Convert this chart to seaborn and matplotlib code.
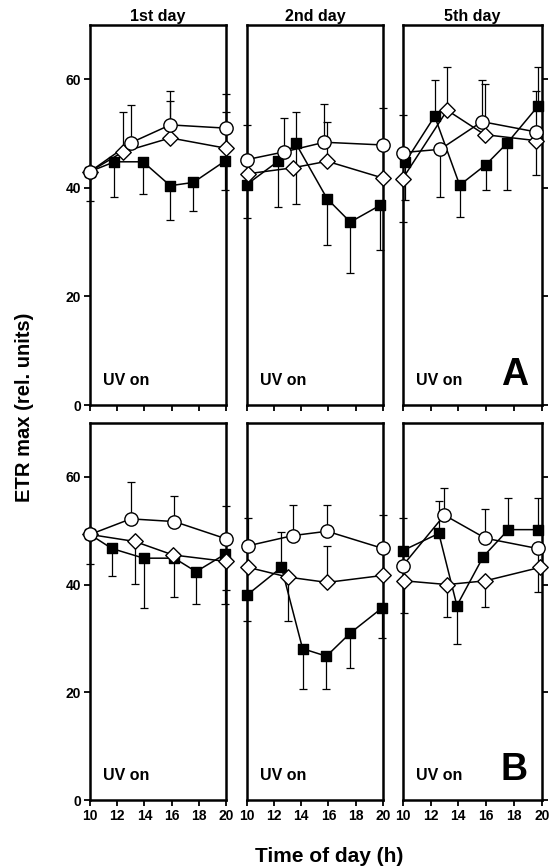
import matplotlib
matplotlib.use("Agg")
import matplotlib.pyplot as plt
import seaborn as sns
import numpy as np

sns.set_style("ticks")
plt.rcParams["font.family"] = ["Liberation Sans", "DejaVu Sans"]
plt.rcParams["font.weight"] = "bold"
for key in ["text.color", "axes.labelcolor", "xtick.color", "ytick.color",
            "axes.edgecolor"]:
    plt.rcParams[key] = "black"

days = ["1st day", "2nd day", "5th day"]
x_ticks = [10, 12, 14, 16, 18, 20]
y_ticks = [0, 20, 40, 60]

# --- A, 1st day ---
A1_sq_t = [10, 11.8, 13.9, 15.9, 17.6, 19.9]
A1_sq = [43.0, 44.8, 44.8, 40.4, 41.0, 44.9]
A1_sq_lo = [5.4, 6.5, 5.9, 6.4, 5.2, 5.3]
A1_sq_hi = [0, 0, 0, 0, 0, 0]
A1_ci_t = [10, 13.0, 15.9, 20.0]
A1_ci = [43.0, 48.3, 51.6, 51.0]
A1_ci_lo = [0, 0, 0, 0]
A1_ci_hi = [0, 6.9, 6.2, 6.2]
A1_di_t = [10, 12.4, 15.9, 20.0]
A1_di = [43.0, 46.6, 49.2, 47.3]
A1_di_lo = [0, 0, 0, 0]
A1_di_hi = [0, 7.4, 6.8, 6.6]

# --- A, 2nd day ---
A2_sq_t = [10, 12.3, 13.6, 15.9, 17.6, 19.8]
A2_sq = [40.6, 44.9, 48.2, 38.0, 33.7, 36.8]
A2_sq_lo = [6.1, 8.5, 11.2, 8.5, 9.3, 8.3]
A2_sq_hi = [0, 0, 5.8, 0, 0, 0]
A2_ci_t = [10, 12.7, 15.7, 20]
A2_ci = [45.2, 46.6, 48.4, 47.9]
A2_ci_lo = [0, 0, 0, 0]
A2_ci_hi = [6.3, 6.3, 7.0, 6.9]
A2_di_t = [10.1, 13.4, 15.9, 20]
A2_di = [42.6, 43.7, 44.9, 41.8]
A2_di_lo = [0, 0, 0, 0]
A2_di_hi = [0, 0, 7.2, 0]

# --- A, 5th day ---
A3_sq_t = [10.2, 12.3, 14.1, 16.0, 17.5, 19.75]
A3_sq = [44.8, 53.2, 40.5, 44.3, 48.2, 55.1]
A3_sq_lo = [7.0, 0, 5.9, 4.7, 8.6, 0]
A3_sq_hi = [0, 6.6, 0, 0, 0, 7.2]
A3_ci_t = [10, 12.7, 15.7, 19.6]
A3_ci = [46.5, 47.1, 52.2, 50.3]
A3_ci_lo = [0, 8.8, 0, 0]
A3_ci_hi = [7.0, 0, 7.6, 7.5]
A3_di_t = [10, 13.2, 15.9, 19.6]
A3_di = [41.7, 54.3, 49.8, 48.7]
A3_di_lo = [7.9, 0, 0, 6.4]
A3_di_hi = [0, 8.0, 9.3, 0]

# --- B, 1st day ---
B1_sq_t = [10, 11.6, 13.95, 16.2, 17.8, 19.9]
B1_sq = [49.3, 46.7, 44.9, 44.9, 42.4, 45.6]
B1_sq_lo = [5.4, 5.2, 9.2, 7.3, 6.0, 9.2]
B1_sq_hi = [0, 0, 0, 0, 0, 0]
B1_ci_t = [10, 13.0, 16.2, 20]
B1_ci = [49.3, 52.2, 51.7, 48.5]
B1_ci_lo = [0, 0, 0, 0]
B1_ci_hi = [0, 6.9, 4.8, 6.1]
B1_di_t = [10, 13.3, 16.1, 20]
B1_di = [49.3, 48.0, 45.5, 44.3]
B1_di_lo = [0, 7.9, 0, 5.4]
B1_di_hi = [0, 0, 0, 0]

# --- B, 2nd day ---
B2_sq_t = [10, 12.55, 14.1, 15.85, 17.6, 19.9]
B2_sq = [38.0, 43.2, 28.1, 26.7, 31.0, 35.6]
B2_sq_lo = [4.8, 0, 7.4, 6.0, 6.5, 5.5]
B2_sq_hi = [0, 6.5, 0, 0, 0, 0]
B2_ci_t = [10.1, 13.4, 15.9, 20]
B2_ci = [47.2, 49.1, 49.9, 46.7]
B2_ci_lo = [0, 0, 0, 0]
B2_ci_hi = [5.1, 5.7, 4.9, 6.2]
B2_di_t = [10.1, 13.0, 15.9, 20]
B2_di = [43.2, 41.4, 40.4, 41.7]
B2_di_lo = [0, 8.2, 0, 0]
B2_di_hi = [0, 0, 6.8, 0]

# --- B, 5th day ---
B3_sq_t = [10, 12.6, 13.9, 15.8, 17.6, 19.75]
B3_sq = [46.3, 49.5, 36.1, 45.2, 50.2, 50.2]
B3_sq_lo = [0, 0, 7.1, 0, 0, 0]
B3_sq_hi = [6.0, 6.1, 0, 0, 5.9, 5.9]
B3_ci_t = [10, 13.0, 15.95, 19.7]
B3_ci = [43.5, 52.9, 48.6, 46.7]
B3_ci_lo = [0, 0, 0, 8.0]
B3_ci_hi = [0, 5.0, 5.5, 0]
B3_di_t = [10.1, 13.2, 15.95, 19.9]
B3_di = [40.7, 40.0, 40.7, 43.2]
B3_di_lo = [5.9, 6.1, 4.8, 0]
B3_di_hi = [0, 0, 0, 0]

panels = [
    [(A1_sq_t, A1_sq, A1_sq_lo, A1_sq_hi), (A1_di_t, A1_di, A1_di_lo, A1_di_hi), (A1_ci_t, A1_ci, A1_ci_lo, A1_ci_hi)],
    [(A2_sq_t, A2_sq, A2_sq_lo, A2_sq_hi), (A2_di_t, A2_di, A2_di_lo, A2_di_hi), (A2_ci_t, A2_ci, A2_ci_lo, A2_ci_hi)],
    [(A3_sq_t, A3_sq, A3_sq_lo, A3_sq_hi), (A3_di_t, A3_di, A3_di_lo, A3_di_hi), (A3_ci_t, A3_ci, A3_ci_lo, A3_ci_hi)],
    [(B1_sq_t, B1_sq, B1_sq_lo, B1_sq_hi), (B1_di_t, B1_di, B1_di_lo, B1_di_hi), (B1_ci_t, B1_ci, B1_ci_lo, B1_ci_hi)],
    [(B2_sq_t, B2_sq, B2_sq_lo, B2_sq_hi), (B2_di_t, B2_di, B2_di_lo, B2_di_hi), (B2_ci_t, B2_ci, B2_ci_lo, B2_ci_hi)],
    [(B3_sq_t, B3_sq, B3_sq_lo, B3_sq_hi), (B3_di_t, B3_di, B3_di_lo, B3_di_hi), (B3_ci_t, B3_ci, B3_ci_lo, B3_ci_hi)],
]

# marker style per series: square filled, diamond open, circle open
styles = [
    dict(marker="s", s=52, facecolor="black"),
    dict(marker="D", s=62, facecolor="white"),
    dict(marker="o", s=92, facecolor="white"),
]

W, H = 550, 868
col_x = [90, 246.7, 402.7]
col_w = [136, 136.3, 139]
row_top = [25, 423]
row_bot = [405, 800]

fig = plt.figure(figsize=(W / 100, H / 100), dpi=100)

for i, series in enumerate(panels):
    r, c = divmod(i, 3)
    ax = fig.add_axes([col_x[c] / W, 1 - row_bot[r] / H, col_w[c] / W,
                       (row_bot[r] - row_top[r]) / H])
    for (t, y, lo, hi), st in zip(series, styles):
        ax.errorbar(t, y, yerr=[lo, hi], fmt="none", ecolor="black",
                    elinewidth=0.9, capsize=2.6, capthick=0.9, zorder=2,
                    clip_on=False)
        sns.lineplot(x=t, y=y, ax=ax, color="black", linewidth=1.1,
                     zorder=3, clip_on=False)
        sns.scatterplot(x=t, y=y, ax=ax, marker=st["marker"], s=st["s"],
                        color=st["facecolor"], edgecolor="black",
                        linewidth=1.0, zorder=4, clip_on=False)

    ax.set_xlim(10, 20)
    ax.set_ylim(0, 70)
    ax.set_xticks(x_ticks)
    ax.set_yticks(y_ticks)
    ax.set_xlabel("")
    ax.set_ylabel("")
    for sp in ax.spines.values():
        sp.set_linewidth(1.8)
        sp.set_color("black")
    ax.tick_params(direction="out", length=4.5, width=1.3, labelsize=10,
                   colors="black", pad=2)
    if r == 0:
        ax.tick_params(labelbottom=False)
        ax.set_title(days[c], fontsize=11.5, fontweight="bold", pad=3)
    if c == 1:
        ax.tick_params(left=False, labelleft=False)
    if c == 2:
        ax.tick_params(left=False, labelleft=False, right=True,
                       labelright=False)
        ax.text(0.9, 0.032, "AB"[r], transform=ax.transAxes, fontsize=27,
                fontweight="bold", ha="right", va="bottom")
    ax.text(0.095, 0.045, "UV on", transform=ax.transAxes, fontsize=11.5,
            fontweight="bold", ha="left", va="bottom")

fig.text(25 / W, 1 - 407 / H, "ETR max (rel. units)", rotation=90,
         fontsize=14.5, fontweight="bold", ha="center", va="center")
fig.text(329 / W, 1 - 856 / H, "Time of day (h)", fontsize=15,
         fontweight="bold", ha="center", va="center")

fig.savefig("out.png", dpi=100)
